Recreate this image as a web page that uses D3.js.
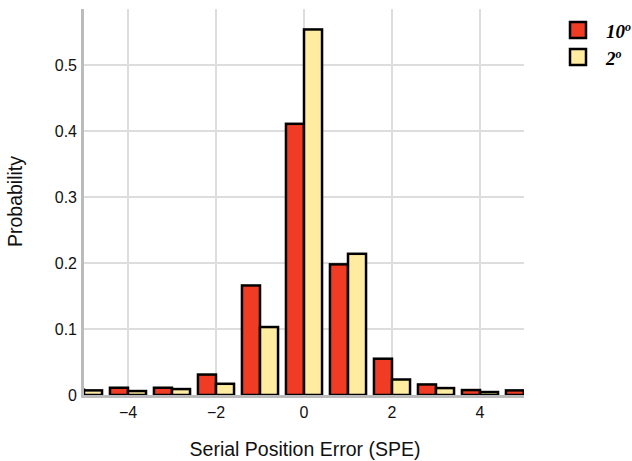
<!DOCTYPE html>
<html>
<head>
<meta charset="utf-8">
<script src="https://cdn.jsdelivr.net/npm/d3@7"></script>
<style>
  body { margin: 0; background: #fff; }
</style>
</head>
<body>
<svg width="632" height="461"></svg>
<script>
// serial position error values, one pair of bars per position
var positions = [-5, -4, -3, -2, -1, 0, 1, 2, 3, 4, 5];
var prob10 = [0.008, 0.011, 0.011, 0.031, 0.166, 0.411, 0.198, 0.055, 0.016, 0.0075, 0.007];
var prob2 = [0.007, 0.006, 0.009, 0.017, 0.103, 0.554, 0.214, 0.0235, 0.0105, 0.0045, 0.004];
var seriesNames = ["10", "2"];
var seriesColors = ["#f03c24", "#ffeca0"];
var xTicks = [-4, -2, 0, 2, 4];
var yTicks = [0, 0.1, 0.2, 0.3, 0.4, 0.5];

var sans = "'Liberation Sans', Arial, sans-serif";
var svg = d3.select("svg");

var x = d3.scaleLinear().domain([-5, 5]).range([84, 524]);
var y = d3.scaleLinear().domain([0, 0.585]).range([395, 9]);

var barW = 0.41; // in data units

// grid
svg.append("g").selectAll("line")
  .data(xTicks)
  .enter().append("line")
  .attr("x1", d => x(d)).attr("x2", d => x(d))
  .attr("y1", y(0.585)).attr("y2", y(0))
  .attr("stroke", "#dddddd").attr("stroke-width", 2);

svg.append("g").selectAll("line")
  .data(yTicks.slice(1))
  .enter().append("line")
  .attr("x1", x(-5)).attr("x2", x(5))
  .attr("y1", d => y(d)).attr("y2", d => y(d))
  .attr("stroke", "#dddddd").attr("stroke-width", 2);

// clip bars to plotting area
svg.append("clipPath").attr("id", "plot")
  .append("rect")
  .attr("x", x(-5)).attr("y", 0)
  .attr("width", x(5) - x(-5)).attr("height", y(0) + 1);

var bars = svg.append("g").attr("clip-path", "url(#plot)");

[prob10, prob2].forEach(function(vals, s) {
  bars.selectAll(".s" + s)
    .data(positions)
    .enter().append("rect")
    .attr("class", "s" + s)
    .attr("x", (d) => x(s === 0 ? d - barW : d))
    .attr("width", x(barW) - x(0))
    .attr("y", (d, i) => y(vals[i]))
    .attr("height", (d, i) => y(0) - y(vals[i]))
    .attr("fill", seriesColors[s])
    .attr("stroke", "#000")
    .attr("stroke-width", 2.5);
});

// axis lines
svg.append("line")
  .attr("x1", x(-5) - 1.5).attr("x2", x(-5) - 1.5)
  .attr("y1", y(0.585)).attr("y2", y(0) + 3)
  .attr("stroke", "#bbbbbb").attr("stroke-width", 3);
svg.append("line")
  .attr("x1", x(-5) - 3).attr("x2", x(5))
  .attr("y1", y(0) + 1.5).attr("y2", y(0) + 1.5)
  .attr("stroke", "#bbbbbb").attr("stroke-width", 3);

// tick labels
svg.append("g").selectAll("text")
  .data(xTicks)
  .enter().append("text")
  .attr("x", d => x(d))
  .attr("y", 418)
  .attr("text-anchor", "middle")
  .style("font-family", sans)
  .style("font-size", "16px")
  .attr("fill", "#111")
  .text(d => d < 0 ? "\u2212" + Math.abs(d) : d);

svg.append("g").selectAll("text")
  .data(yTicks)
  .enter().append("text")
  .attr("x", 77)
  .attr("y", d => y(d) + 5.7)
  .attr("text-anchor", "end")
  .style("font-family", sans)
  .style("font-size", "16px")
  .attr("fill", "#111")
  .text(d => d);

// axis titles
svg.append("text")
  .attr("x", 305).attr("y", 456)
  .attr("text-anchor", "middle")
  .style("font-family", sans)
  .style("font-size", "19.5px")
  .attr("fill", "#111")
  .text("Serial Position Error (SPE)");

svg.append("text")
  .attr("transform", "translate(21.5,201.5) rotate(-90)")
  .attr("text-anchor", "middle")
  .style("font-family", sans)
  .style("font-size", "19.5px")
  .attr("fill", "#111")
  .text("Probability");

// legend
var legend = svg.append("g").selectAll("g")
  .data(seriesNames)
  .enter().append("g")
  .attr("transform", (d, i) => "translate(570," + (22 + i * 27) + ")");

legend.append("rect")
  .attr("width", 16).attr("height", 16)
  .attr("fill", (d, i) => seriesColors[i])
  .attr("stroke", "#000").attr("stroke-width", 2.5);

var lt = legend.append("text")
  .attr("x", 36).attr("y", 16)
  .style("font-family", "'Liberation Serif', 'DejaVu Serif', serif")
  .style("font-weight", "bold")
  .style("font-style", "italic")
  .style("font-size", "19px")
  .attr("fill", "#000");
lt.append("tspan").text(d => d);
lt.append("tspan").attr("dy", -7).style("font-size", "12px").text("o");
</script>
</body>
</html>
